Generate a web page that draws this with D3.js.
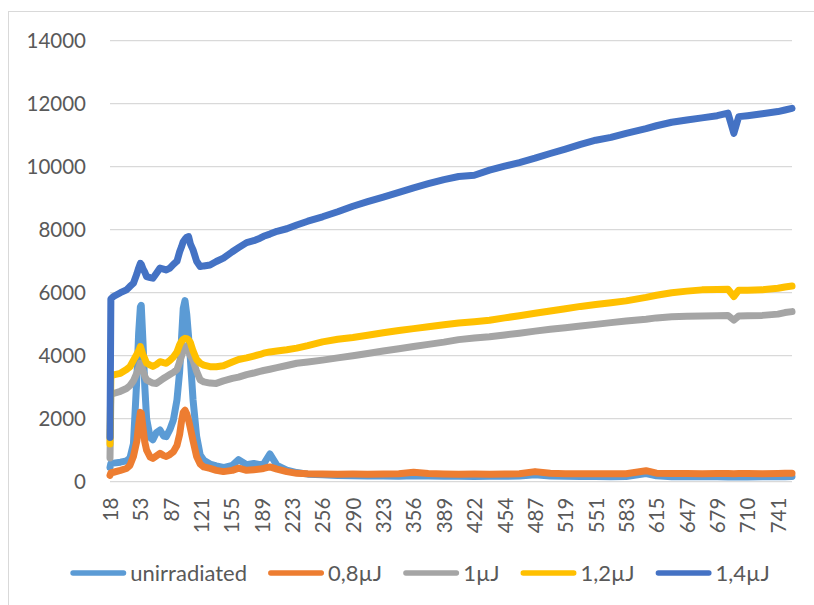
<!DOCTYPE html>
<html>
<head>
<meta charset="utf-8">
<script src="https://cdn.jsdelivr.net/npm/d3@7"></script>
<style>
  html, body { margin: 0; padding: 0; background: #fff; }
  svg { display: block; }
</style>
</head>
<body>
<svg id="chart" width="814" height="605"></svg>
<script>
// ---- Data ----
const xValues = [18,19,22,30,37,41,45,49,51,53,54,56,58,60,64,67,71,75,79,82,86,90,94,97,99,101,103,105,107,109,112,116,120,124,131,138,146,156,163,172,180,187,191,198,206,217,228,240,256,273,290,306,323,340,356,372,389,405,422,438,454,470,487,503,519,535,551,567,583,604,615,631,647,663,679,690,696,701,710,725,741,748,755];

const unirradiated = [450,580,590,620,660,750,1200,3300,4700,5550,
  5600,4400,3000,2000,1400,1330,1560,1640,1450,1430,
  1650,1960,2600,3500,4500,5500,5750,5300,4600,3900,
  2600,1450,850,680,560,500,450,520,700,540,
  580,540,560,880,520,370,290,240,220,200,
  190,180,180,175,190,180,170,170,165,170,
  170,180,220,180,170,165,165,160,165,260,
  190,160,155,155,155,150,150,150,150,155,
  160,160,165];

const uJ08 = [200,280,300,360,420,520,800,1300,1800,2200,
  2180,1700,1250,1000,780,740,820,900,830,800,
  860,950,1150,1500,1900,2200,2270,2150,1950,1700,
  1300,800,560,470,420,360,320,360,430,360,
  380,400,420,470,400,320,265,250,245,240,
  245,240,245,250,300,260,245,240,245,240,
  245,250,320,265,255,250,250,255,255,350,
  270,260,260,255,260,260,255,260,260,255,
  260,265,265];

const uJ1 = [750,2780,2800,2870,2960,3050,3200,3450,3600,3760,
  3700,3520,3350,3230,3170,3130,3120,3200,3280,3330,
  3400,3470,3560,3800,3980,4150,4290,4250,4150,4000,
  3860,3500,3230,3170,3130,3120,3200,3280,3320,3400,
  3450,3500,3530,3570,3620,3690,3760,3800,3860,3930,
  4000,4070,4150,4220,4290,4360,4430,4510,4560,4600,
  4660,4715,4780,4840,4890,4940,4995,5050,5100,5160,
  5200,5240,5250,5260,5270,5280,5130,5260,5270,5280,
  5320,5370,5400];

const uJ12 = [1200,3320,3390,3440,3560,3650,3850,4050,4150,4290,
  4200,4020,3900,3760,3700,3660,3720,3810,3780,3760,
  3850,3960,4120,4350,4450,4520,4550,4540,4500,4420,
  4150,3880,3760,3700,3650,3650,3680,3800,3880,3930,
  3990,4040,4080,4120,4150,4190,4240,4320,4440,4520,
  4580,4650,4730,4800,4860,4920,4980,5035,5080,5125,
  5200,5270,5345,5420,5490,5565,5625,5680,5740,5850,
  5920,6000,6050,6090,6100,6110,5880,6080,6080,6090,
  6140,6180,6210];

const uJ14 = [1400,5800,5880,6000,6090,6200,6300,6600,6780,6930,
  6900,6750,6650,6510,6480,6460,6620,6780,6750,6720,
  6780,6900,7000,7300,7450,7620,7700,7760,7780,7550,
  7360,7000,6830,6850,6880,6990,7100,7300,7430,7590,
  7650,7730,7790,7860,7950,8030,8150,8270,8410,8570,
  8745,8890,9035,9185,9330,9460,9590,9690,9730,9890,
  10020,10130,10270,10420,10560,10710,10840,10930,11060,11210,
  11300,11410,11480,11550,11620,11700,11060,11590,11620,11680,
  11750,11800,11850];

const seriesNames = ["unirradiated", "0,8µJ", "1µJ", "1,2µJ", "1,4µJ"];
const seriesColors = ["#5B9BD5", "#ED7D31", "#A5A5A5", "#FFC000", "#4472C4"];
const seriesValues = [unirradiated, uJ08, uJ1, uJ12, uJ14];

const xTickLabels = [18,53,87,121,155,189,223,256,290,323,356,389,422,454,487,519,551,583,615,647,679,710,741];
const xLast = 755;
const yTicks = [0,2000,4000,6000,8000,10000,12000,14000];

// ---- Layout ----
const svg = d3.select("#chart");
const plotLeft = 110, plotRight = 792, plotTop = 40.7, plotBottom = 481.7;
const step = 30.36;
const textColor = "#595959";
const gridColor = "#D9D9D9";
const axisFont = "Lato, 'Liberation Sans', sans-serif";

// chart border
svg.append("rect")
  .attr("x", 8.5).attr("y", 11.5)
  .attr("width", 830).attr("height", 640)
  .attr("fill", "none").attr("stroke", gridColor).attr("stroke-width", 1);

const x = d3.scaleLinear()
  .domain([...xTickLabels, xLast])
  .range([...xTickLabels.map((d, i) => plotLeft + i * step), plotRight]);

const y = d3.scaleLinear().domain([0, 14000]).range([plotBottom, plotTop]);

// gridlines
svg.append("g")
  .selectAll("line")
  .data(yTicks)
  .join("line")
  .attr("x1", plotLeft).attr("x2", plotRight)
  .attr("y1", d => y(d)).attr("y2", d => y(d))
  .attr("stroke", gridColor).attr("stroke-width", 1.2);

// y axis labels
const yAxis = svg.append("g")
  .attr("transform", `translate(${plotLeft},0)`)
  .call(d3.axisLeft(y).tickValues(yTicks).tickSize(0).tickPadding(24).tickFormat(d3.format("d")));
yAxis.select(".domain").remove();
yAxis.selectAll("text")
  .attr("fill", textColor)
  .style("font-family", axisFont)
  .style("font-size", "20.5px");

// x axis labels
const xAxis = svg.append("g")
  .attr("transform", `translate(0,${plotBottom})`)
  .call(d3.axisBottom(x).tickValues(xTickLabels).tickSize(0).tickFormat(d => d));
xAxis.select(".domain").remove();
xAxis.selectAll("text")
  .attr("transform", "rotate(-90)")
  .attr("text-anchor", "end")
  .attr("x", -16).attr("y", 0).attr("dy", "0.36em")
  .attr("fill", textColor)
  .style("font-family", axisFont)
  .style("font-size", "20.5px");

// lines
const line = d3.line()
  .x((d, i) => x(xValues[i]))
  .y(d => y(d));

svg.append("g")
  .selectAll("path")
  .data(seriesValues)
  .join("path")
  .attr("d", d => line(d))
  .attr("fill", "none")
  .attr("stroke", (d, i) => seriesColors[i])
  .attr("stroke-width", 7)
  .attr("stroke-linejoin", "round")
  .attr("stroke-linecap", "round");

// legend
const legendY = 573;
const legend = svg.append("g");
const items = legend.selectAll("g").data(seriesNames).join("g");
items.append("line")
  .attr("x1", 2.7).attr("x2", 53.3)
  .attr("y1", legendY).attr("y2", legendY)
  .attr("stroke", (d, i) => seriesColors[i])
  .attr("stroke-width", 5.3)
  .attr("stroke-linecap", "round");
items.append("text")
  .attr("x", 60).attr("y", legendY).attr("dy", "0.36em")
  .attr("fill", textColor)
  .style("font-family", axisFont)
  .style("font-size", "22px")
  .text(d => d);
const widths = [];
items.each(function () {
  const w = d3.select(this).select("text").node().getComputedTextLength();
  widths.push(60 + w);
});
const gap = 21;
const total = d3.sum(widths) + gap * (widths.length - 1);
let startX = 420 - total / 2;
items.attr("transform", (d, i) => {
  const t = `translate(${startX},0)`;
  startX += widths[i] + gap;
  return t;
});
</script>
</body>
</html>
